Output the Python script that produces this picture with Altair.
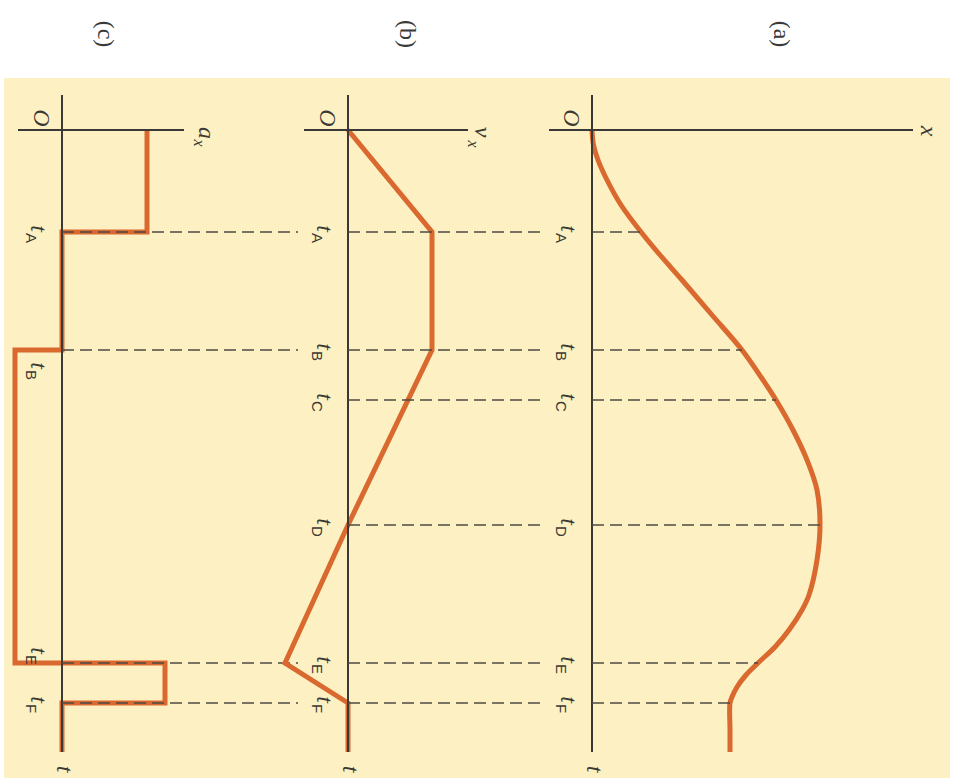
import altair as alt
import pandas as pd

# ---- colours and fonts ----------------------------------------------------
BG = "#fdf0c2"
ORANGE = "#d9692f"
INK = "#3b3935"
DASH = "#4d4a44"
SERIF = "Liberation Serif"
SANS = "Liberation Sans"

# ---- data -------------------------------------------------------------------
# instants marked on the time axis
EVENTS = ["A", "B", "C", "D", "E", "F"]
T_EVENTS = [1.02, 2.20, 2.70, 3.95, 5.33, 5.73]
T_TOP, T_END = -0.35, 6.22

# (a) position x(t)
X_T = [0.00, 0.15, 0.30, 0.50, 0.75, 1.02, 1.25, 1.50, 1.85, 2.20, 2.50, 2.70,
       3.00, 3.30, 3.60, 3.95, 4.30, 4.65, 4.80, 5.00, 5.17, 5.33, 5.45, 5.57,
       5.67, 5.73, 6.00, 6.22]
X_VAL = [0.00, 0.015, 0.06, 0.15, 0.29, 0.49, 0.68, 0.90, 1.20, 1.50, 1.71, 1.84,
         2.01, 2.15, 2.25, 2.28, 2.25, 2.17, 2.10, 1.97, 1.83, 1.66, 1.54, 1.45,
         1.40, 1.38, 1.38, 1.38]

# (b) velocity v_x(t), piecewise linear
V_T = [0.00, 1.02, 2.20, 3.95, 5.33, 5.73, 6.22]
V_VAL = [0.00, 0.84, 0.84, 0.00, -0.63, 0.00, 0.00]

# (c) acceleration a_x(t), piecewise constant (vertices of the step outline)
A_T = [0.00, 1.02, 1.02, 2.20, 2.20, 5.33, 5.33, 5.73, 5.73, 6.22]
A_VAL = [0.85, 0.85, 0.00, 0.00, -0.47, -0.47, 1.03, 1.03, 0.00, 0.00]

PANEL_TAGS = ["(c)", "(b)", "(a)"]

# ---- layout -----------------------------------------------------------------
VIEW_W, VIEW_H = 946, 700
T_SCALE = alt.Scale(domain=[-0.52, 6.48], reverse=True, nice=False, zero=False)

PANELS = [
    dict(tag=PANEL_TAGS[0], domain=[-0.58, 2.38], range=[0, 296],
         axis=[-0.44, 1.22], dash_end=2.36, events=["A", "B", "E", "F"],
         shift={"B": 19, "E": -9}, tag_x=0.43,
         name="a", name_off=(3, -22), sub_off=(13, -15),
         curve=(A_T, A_VAL), interp="linear"),
    dict(tag=PANEL_TAGS[1], domain=[-0.48, 2.00], range=[296, 544],
         axis=[-0.44, 1.20], dash_end=1.97, events=EVENTS,
         shift={}, tag_x=0.59,
         name="v", name_off=(2, -14), sub_off=(14, -5),
         curve=(V_T, V_VAL), interp="linear"),
    dict(tag=PANEL_TAGS[2], domain=[-0.44, 3.58], range=[544, 946],
         axis=[-0.43, 3.21], dash_end=None, events=EVENTS,
         shift={}, tag_x=1.89,
         name="x", name_off=(1, -15), sub_off=None,
         curve=(X_T, X_VAL), interp="catmull-rom"),
]


def build_panel(p):
    xs = alt.Scale(domain=p["domain"], range=p["range"], nice=False, zero=False)

    def X(f):
        return alt.X(f"{f}:Q", scale=xs, axis=None)

    def Y(f):
        return alt.Y(f"{f}:Q", scale=T_SCALE, axis=None)

    ct, cv = p["curve"]
    curve = pd.DataFrame({"i": range(len(ct)), "t": ct, "v": cv})
    curve_layer = alt.Chart(curve).mark_line(
        color=ORANGE, strokeWidth=5, interpolate=p["interp"], strokeJoin="miter"
    ).encode(x=X("v"), y=Y("t"), order=alt.Order("i:Q"))

    axes = pd.DataFrame({
        "v": [0.0, p["axis"][0]], "v2": [0.0, p["axis"][1]],
        "t": [T_TOP, 0.0], "t2": [T_END, 0.0],
    })
    axis_layer = alt.Chart(axes).mark_rule(color=INK, strokeWidth=2).encode(
        x=X("v"), x2=alt.X2("v2"), y=Y("t"), y2=alt.Y2("t2")
    )

    ev_t = [T_EVENTS[EVENTS.index(e)] for e in p["events"]]
    if p["dash_end"] is None:
        ends = [X_VAL[X_T.index(t)] for t in ev_t]
    else:
        ends = [p["dash_end"]] * len(ev_t)
    dashes = pd.DataFrame({"t": ev_t, "v": 0.0, "v2": ends})
    dash_layer = alt.Chart(dashes).mark_rule(
        color=DASH, strokeWidth=1.6, strokeDash=[12, 6]
    ).encode(x=X("v"), x2=alt.X2("v2"), y=Y("t"))

    layers = [curve_layer, axis_layer, dash_layer]

    # event labels t_A, t_B, ...
    for e, t in zip(p["events"], ev_t):
        s = p["shift"].get(e, 0)
        d = pd.DataFrame({"t": [t], "v": [0.0], "sub": [e]})
        layers.append(alt.Chart(d).mark_text(
            text="t", font=SERIF, fontStyle="italic", fontSize=24, angle=90,
            align="right", baseline="middle", dx=s, dy=24, color=INK
        ).encode(x=X("v"), y=Y("t")))
        layers.append(alt.Chart(d).mark_text(
            font=SANS, fontSize=15, angle=90, align="left", baseline="middle",
            dx=s + 1, dy=31, color=INK
        ).encode(x=X("v"), y=Y("t"), text="sub:N"))

    # origin, time-axis and value-axis names
    origin = pd.DataFrame({"t": [0.0], "v": [0.0]})
    layers.append(alt.Chart(origin).mark_text(
        text="O", font=SERIF, fontStyle="italic", fontSize=24, angle=90,
        align="center", baseline="middle", dx=-12, dy=21, color=INK
    ).encode(x=X("v"), y=Y("t")))

    tend = pd.DataFrame({"t": [T_END], "v": [0.0]})
    layers.append(alt.Chart(tend).mark_text(
        text="t", font=SERIF, fontStyle="italic", fontSize=24, angle=90,
        align="center", baseline="middle", dx=17, dy=-2, color=INK
    ).encode(x=X("v"), y=Y("t")))

    vend = pd.DataFrame({"t": [0.0], "v": [p["axis"][1]]})
    layers.append(alt.Chart(vend).mark_text(
        text=p["name"], font=SERIF, fontStyle="italic", fontSize=24, angle=90,
        align="center", baseline="middle",
        dx=p["name_off"][0], dy=p["name_off"][1], color=INK
    ).encode(x=X("v"), y=Y("t")))
    if p["sub_off"] is not None:
        layers.append(alt.Chart(vend).mark_text(
            text="x", font=SERIF, fontStyle="italic", fontSize=16, angle=90,
            align="center", baseline="middle",
            dx=p["sub_off"][0], dy=p["sub_off"][1], color=INK
        ).encode(x=X("v"), y=Y("t")))

    # panel tag above the shaded area
    tag = pd.DataFrame({"t": [-0.96], "v": [p["tag_x"]], "tag": [p["tag"]]})
    layers.append(alt.Chart(tag).mark_text(
        font=SERIF, fontSize=24, angle=90, align="center", baseline="middle",
        color="#3a3a3a"
    ).encode(x=X("v"), y=Y("t"), text="tag:N"))

    return alt.layer(*layers)


chart = (
    alt.layer(*[build_panel(p) for p in PANELS])
    .resolve_scale(x="independent")
    .properties(
        width=VIEW_W,
        height=VIEW_H,
        padding={"left": 4, "top": 78, "right": 12, "bottom": 6},
        autosize=alt.AutoSizeParams(type="none"),
        background="white",
    )
    .configure_view(fill=BG, strokeWidth=0)
)

chart.save("out.html", embed_options={"renderer": "svg", "actions": False})
